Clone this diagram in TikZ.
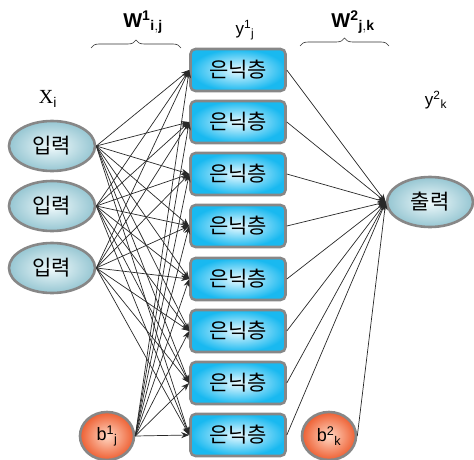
\documentclass[tikz,border=0pt]{standalone}
\usepackage{fontspec}
\setmainfont{Liberation Sans}
\newfontfamily\krfont{Noto Sans CJK KR}
\newfontfamily\serifX{Liberation Serif}
\usetikzlibrary{arrows.meta,decorations.pathreplacing,shapes.geometric}
\definecolor{bordergray}{RGB}{135,135,135}
\definecolor{inouter}{RGB}{150,198,210}
\definecolor{ininner}{RGB}{240,250,252}
\definecolor{hidouter}{RGB}{25,185,240}
\definecolor{hidinner}{RGB}{235,250,255}
\definecolor{biasouter}{RGB}{238,95,50}
\definecolor{biasinner}{RGB}{255,215,195}
\definecolor{linecol}{RGB}{40,40,40}
\begin{document}
\begin{tikzpicture}[x=1pt,y=-1pt,
  inpnode/.style={ellipse, draw=bordergray, line width=2.6pt, minimum width=86pt, minimum height=50pt, inner sep=1pt,
    inner color=ininner, outer color=inouter, font=\krfont\fontsize{21}{21}\selectfont},
  hidnode/.style={rectangle, rounded corners=5pt, draw=bordergray, line width=2.6pt, minimum width=95pt, minimum height=42pt,
    inner color=hidinner, outer color=hidouter, font=\krfont\fontsize{21}{21}\selectfont},
  biasnode/.style={ellipse, draw=bordergray, line width=2.6pt, minimum width=54pt, minimum height=48pt, inner sep=0pt,
    inner color=biasinner, outer color=biasouter, font=\fontsize{18}{18}\selectfont},
  conn/.style={draw=linecol, line width=0.7pt},
  arr/.style={conn, -{Stealth[length=8pt,width=6pt]}},
  lbl/.style={font=\fontsize{17}{17}\selectfont},
  wlbl/.style={font=\bfseries\fontsize{20}{20}\selectfont},
  bracestyle/.style={draw=black!80, line width=0.6pt, decorate, decoration={brace, amplitude=8pt}}
]
\useasboundingbox (0,0) rectangle (474,460);

% hidden layer
\foreach \i/\y in {1/70,2/122,3/174,4/226,5/279,6/331,7/383,8/435}{
  \node[hidnode] (h\i) at (238,\y) {은닉층};
}
% inputs
\node[inpnode] (in1) at (52,146) {입력};
\node[inpnode] (in2) at (52,206) {입력};
\node[inpnode] (in3) at (52,268) {입력};
% biases
\node[biasnode] (b1) at (107,436) {b$^{\mathrm{1}}{}_{\mathrm{j}}$};
\node[biasnode] (b2) at (329,436) {b$^{\mathrm{2}}{}_{\mathrm{k}}$};
% output
\node[inpnode] (out) at (430,202) {출력};

% connections input -> hidden
\foreach \s in {in1,in2,in3,b1}{
  \foreach \i in {1,...,8}{
    \draw[arr] (\s.east) -- (h\i.west);
  }
}
% hidden -> output
\foreach \i in {1,...,8}{
  \draw[arr] (h\i.east) -- (out.west);
}
\draw[arr] (b2.east) -- (out.west);

% labels
\node[font=\serifX\fontsize{20}{20}\selectfont] (xl) at (48,99) {X$_{\mathrm{i}}$};
\node[lbl] (y1l) at (245,30) {y$^{\mathrm{1}}{}_{\mathrm{j}}$};
\node[lbl] (y2l) at (436,100) {y$^{\mathrm{2}}{}_{\mathrm{k}}$};
\node[wlbl] (w1l) at (143,22) {W$^{\mathbf{1}}{}_{\mathbf{i,j}}$};
\node[wlbl] (w2l) at (353,22) {W$^{\mathbf{2}}{}_{\mathbf{j,k}}$};

% braces
\coordinate (br1a) at (91,48);
\coordinate (br1b) at (181,48);
\coordinate (br2a) at (300,46);
\coordinate (br2b) at (389,46);
\draw[bracestyle] (br1a) -- (br1b);
\draw[bracestyle] (br2a) -- (br2b);
\end{tikzpicture}
\end{document}
